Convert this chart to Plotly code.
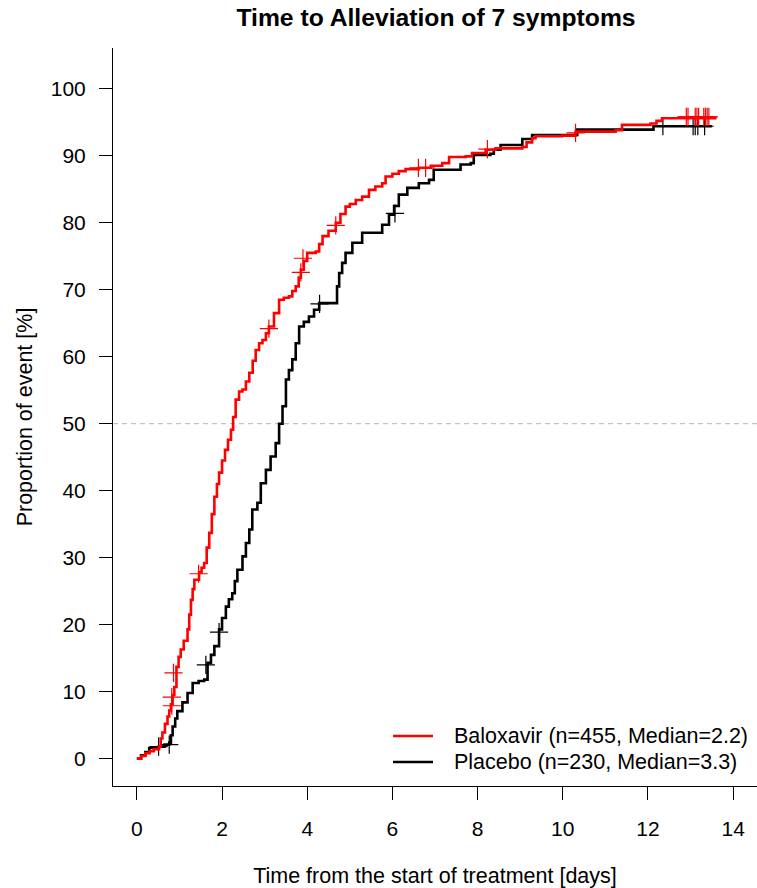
import plotly.graph_objects as go

# ---------------- data ----------------
series_names = ["Baloxavir (n=455, Median=2.2)", "Placebo (n=230, Median=3.3)"]
series_colors = ["#ff0000", "#000000"]

baloxavir_time = [0, 0.1, 0.2, 0.3, 0.4, 0.52, 0.56, 0.6, 0.66, 0.72, 0.76, 0.8, 0.84, 0.88,
                  0.93, 0.98, 1.03, 1.1, 1.19, 1.23, 1.27, 1.31, 1.35, 1.46, 1.52, 1.58, 1.64,
                  1.70, 1.76, 1.82, 1.88, 1.93, 2.0, 2.07, 2.14, 2.21, 2.26, 2.32, 2.40, 2.48,
                  2.56, 2.64, 2.72, 2.79, 2.87, 2.95, 3.03, 3.10, 3.22, 3.34, 3.45, 3.57, 3.65,
                  3.73, 3.80, 3.85, 3.92, 4.0, 4.2, 4.28, 4.36, 4.5, 4.67, 4.78, 4.9, 5.0, 5.14,
                  5.29, 5.45, 5.6, 5.76, 5.84, 6.0, 6.15, 6.31, 6.62, 6.9, 7.17, 7.33, 7.72,
                  7.87, 8.19, 8.42, 9.05, 9.15, 9.28, 9.36, 9.98, 10.3, 11.24, 11.39, 12.06,
                  12.2, 12.33, 13.58]
baloxavir_pct = [0, 0.4, 0.8, 1.1, 1.4, 1.8, 3.0, 3.9, 5.2, 6.3, 7.2, 8.1, 9.5, 10.7,
                 13.7, 15.2, 16.3, 17.6, 19.3, 21.5, 23.7, 25.3, 26.7, 27.8, 28.5, 29.2, 31.5,
                 33.7, 36.5, 39.1, 41.0, 42.7, 44.5, 46.1, 47.6, 49.1, 51.0, 53.6, 54.8, 55.1,
                 56.3, 57.6, 59.4, 61.0, 62.0, 62.5, 63.5, 64.5, 66.5, 68.5, 68.8, 69.0, 69.8,
                 70.5, 71.8, 73.0, 74.3, 75.5, 75.7, 76.8, 78.0, 78.8, 80.0, 81.3, 82.4, 82.8, 83.4,
                 83.9, 84.9, 85.4, 85.9, 86.9, 87.3, 87.7, 88.0, 88.2, 88.5, 88.9, 89.8, 89.9,
                 90.4, 90.9, 91.1, 91.3, 92.0, 92.6, 92.9, 93.0, 93.6, 93.8, 94.6, 94.8,
                 95.2, 95.6, 95.8]

placebo_time = [0, 0.1, 0.2, 0.29, 0.4, 0.52, 0.65, 0.76, 0.80, 0.84, 0.9, 0.95, 1.07, 1.19,
                1.31, 1.45, 1.58, 1.66, 1.74, 1.82, 1.93, 2.0, 2.09, 2.16, 2.24, 2.30, 2.36,
                2.48, 2.56, 2.64, 2.71, 2.83, 2.91, 3.03, 3.14, 3.26, 3.34, 3.42, 3.5, 3.57,
                3.65, 3.73, 3.81, 3.92, 4.04, 4.16, 4.28, 4.70, 4.75, 4.82, 4.9, 5.06, 5.29,
                5.76, 5.92, 6.04, 6.15, 6.35, 6.62, 6.86, 6.97, 7.6, 7.84, 7.91, 8.3, 8.38,
                8.54, 9.05, 9.28, 10.34, 12.13, 13.5]
placebo_pct = [0, 0.5, 1.0, 1.6, 1.7, 1.8, 2.1, 2.4, 3.5, 4.8, 6.0, 7.1, 8.4, 9.8,
               11.3, 11.6, 11.8, 14.3, 15.5, 16.8, 19.3, 21.0, 22.7, 23.8, 24.7, 26.5, 28.2,
               30.2, 32.2, 34.2, 37.2, 38.2, 41.1, 43.1, 45.1, 47.1, 50.0, 52.6, 56.6, 58.0,
               59.6, 62.0, 64.5, 65.2, 66.0, 67.0, 68.0, 70.5, 72.5, 74.0, 75.5, 77.0, 78.5,
               79.7, 81.2, 82.5, 84.2, 85.2, 85.9, 86.4, 87.9, 88.7, 88.9, 90.1, 90.3, 90.9,
               91.6, 92.5, 93.1, 93.9, 94.4, 94.4]

# censored observations
baloxavir_cens_time = [0.82, 0.82, 0.86, 1.45, 3.1, 3.85, 3.9, 4.67, 6.61, 6.78, 8.23, 10.3,
                       12.90, 12.94, 13.11, 13.15, 13.19, 13.31, 13.35, 13.39, 13.43]
baloxavir_cens_pct = [7.9, 9.2, 12.8, 27.6, 64.2, 72.6, 74.7, 79.6, 88.2, 88.2, 91.0, 93.4,
                      95.8, 95.8, 95.8, 95.8, 95.8, 95.8, 95.8, 95.8, 95.8]
placebo_cens_time = [0.51, 0.76, 1.62, 1.93, 4.29, 6.06, 12.35, 13.06, 13.11, 13.17, 13.33]
placebo_cens_pct = [1.8, 2.1, 14.0, 18.9, 67.9, 81.4, 94.4, 94.4, 94.4, 94.4, 94.4]

x_ticks = [0, 2, 4, 6, 8, 10, 12, 14]
y_ticks = [0, 10, 20, 30, 40, 50, 60, 70, 80, 90, 100]
reference_pct = 50

title_text = "Time to Alleviation of 7 symptoms"
x_title = "Time from the start of treatment [days]"
y_title = "Proportion of event [%]"

# ---------------- figure ----------------
FONT = "Liberation Sans, Arial, sans-serif"
fig = go.Figure()

curves = [
    (placebo_time, placebo_pct, placebo_cens_time, placebo_cens_pct, series_names[1], series_colors[1]),
    (baloxavir_time, baloxavir_pct, baloxavir_cens_time, baloxavir_cens_pct, series_names[0], series_colors[0]),
]
for t, p, ct, cp, name, col in curves:
    fig.add_trace(go.Scatter(x=t, y=p, mode="lines", line=dict(color=col, width=2.6, shape="hv"),
                             name=name, showlegend=False, hoverinfo="skip"))
    fig.add_trace(go.Scatter(x=ct, y=cp, mode="markers",
                             marker=dict(symbol="cross-thin", size=13, color=col,
                                         line=dict(color=col, width=1.2)),
                             showlegend=False, hoverinfo="skip"))

fig.add_shape(type="line", xref="paper", x0=0, x1=1, yref="y", y0=reference_pct, y1=reference_pct,
              line=dict(color="#b4b4b4", width=1, dash="5px,4px"), layer="below")

# legend (R-style: 40 px line sample, text after a gap)
legend_rows_y = [0.0678, 0.0325]
for name, col, ly in zip(series_names, series_colors, legend_rows_y):
    fig.add_shape(type="line", xref="paper", yref="paper", x0=0.4348, x1=0.4969, y0=ly, y1=ly,
                  line=dict(color=col, width=2.6))
    fig.add_annotation(xref="paper", yref="paper", x=0.5264, y=ly, text=name, showarrow=False,
                       xanchor="left", yanchor="middle", font=dict(family=FONT, size=21.5, color="black"))

fig.update_layout(
    width=757, height=888,
    margin=dict(l=113, r=0, t=48, b=102),
    plot_bgcolor="white", paper_bgcolor="white",
    font=dict(family=FONT, size=21, color="black"),
    title=dict(text=title_text, x=(436 / 757), xanchor="center", xref="container",
               y=1 - 17 / 888, yanchor="middle",
               font=dict(family=FONT, size=24.7, weight="bold", color="black")),
    showlegend=False,
)
fig.update_xaxes(range=[-0.56, 14.56], tickvals=x_ticks, ticks="outside", ticklen=13, tickwidth=1,
                 tickcolor="black", showline=True, linecolor="black", linewidth=1, mirror=False,
                 showgrid=False, zeroline=False, ticklabelstandoff=11,
                 title=dict(text=x_title, standoff=28, font=dict(size=21.5)))
fig.update_yaxes(range=[-4.08, 106.08], tickvals=y_ticks, ticks="outside", ticklen=13, tickwidth=1,
                 tickcolor="black", showline=True, linecolor="black", linewidth=1, mirror=False,
                 showgrid=False, zeroline=False, ticklabelstandoff=9,
                 title=dict(text=y_title, standoff=12, font=dict(size=21.5)))

fig.write_html("out.html")
